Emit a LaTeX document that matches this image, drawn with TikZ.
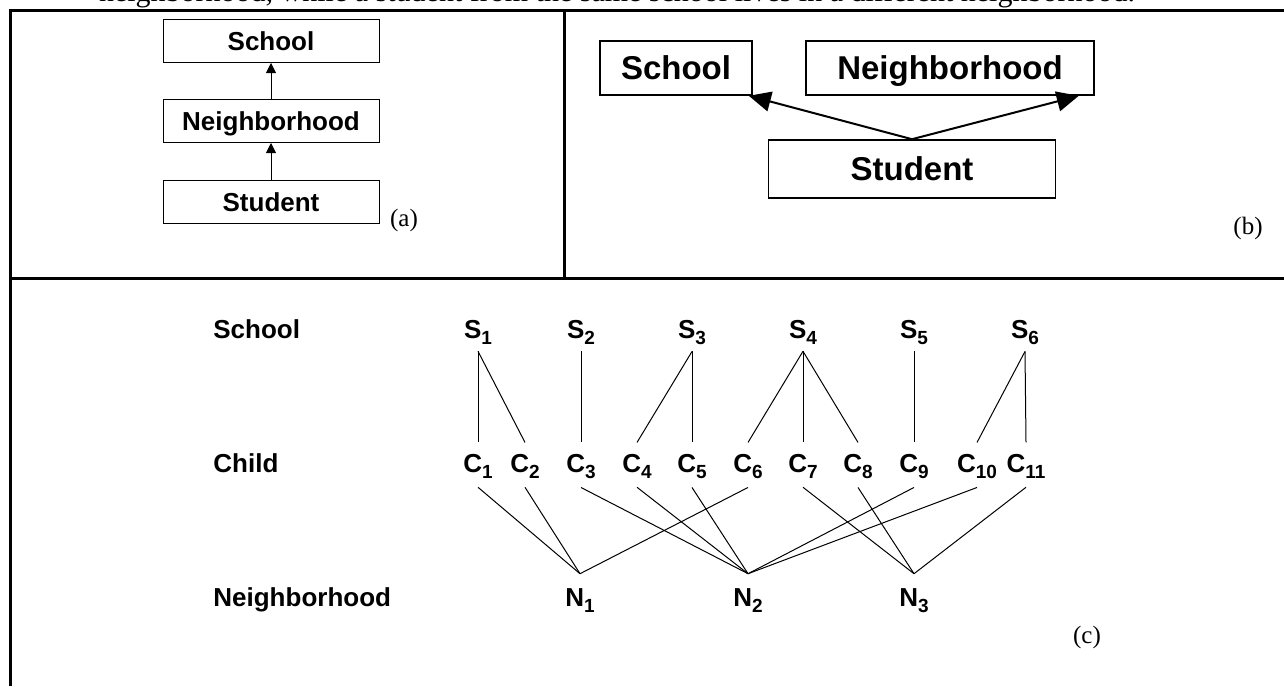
\documentclass[tikz,border=0pt]{standalone}
\usepackage{fontspec}
\setmainfont{Liberation Serif}
\setsansfont{Liberation Sans}
\usetikzlibrary{arrows.meta}
\newcommand{\vsub}[1]{\raisebox{-0.5ex}{\fontsize{9.5}{11}\selectfont #1}}

\begin{document}
\begin{tikzpicture}[x=0.5pt,y=-0.5pt,
	box/.style={draw, line width=0.5pt, minimum width=108pt, minimum height=21.5pt, inner sep=0pt, text height=9.4pt, text depth=0pt, font=\sffamily\bfseries\fontsize{13}{15}\selectfont},
	bigbox/.style={draw, line width=0.8pt, minimum height=27pt, inner sep=0pt, text height=11.9pt, text depth=0pt, font=\sffamily\bfseries\fontsize{16.5}{19}\selectfont},
	lab/.style={inner sep=0pt, font=\fontsize{12.5}{15}\selectfont},
	vtx/.style={anchor=base, inner sep=3pt, font=\sffamily\bfseries\fontsize{13}{15}\selectfont},
	row/.style={anchor=base west, inner sep=0pt, font=\sffamily\bfseries\fontsize{13}{15}\selectfont}]
	\useasboundingbox (0,0) rectangle (1284,686);
	\clip (0,0) rectangle (1284,686);
	% caption line, cut off at the top
	\node[lab, anchor=base, font=\fontsize{15}{18}\selectfont] (cap) at (617,1) {neighborhood, while a student from the same school lives in a different neighborhood.};
	% frame
	\draw[line width=1.5pt] (10,686) -- (10,10) -- (1284,10);
	\draw[line width=1.5pt] (564,10) -- (564,278);
	\draw[line width=1.5pt] (10,278) -- (1284,278);

	% (a)
	\node[box] (aS) at (271,41) {School};
	\node[box] (aN) at (271,121) {Neighborhood};
	\node[box] (aC) at (271,202) {Student};
	\draw[-{Triangle[length=5pt,width=5pt]}] (aN) -- (aS);
	\draw[-{Triangle[length=5pt,width=5pt]}] (aC) -- (aN);
	\node[lab] (la) at (404,220) {(a)};

	% (b)
	\node[bigbox, minimum width=76pt] (bS) at (676,68) {School};
	\node[bigbox, minimum width=144pt] (bN) at (950,68) {Neighborhood};
	\node[bigbox, minimum width=143.5pt, minimum height=29pt] (bC) at (912,169) {Student};
	\draw[line width=1pt, -{Triangle[length=11pt,width=10pt]}] (bC.north) -- ([xshift=-2pt]bS.south east);
	\draw[line width=1pt, -{Triangle[length=11pt,width=10pt]}] (bC.north) -- ([xshift=-8pt]bN.south east);
	\node[lab] (lb) at (1248,228) {(b)};

	% (c)
	\node[row] (rS) at (213,338) {School};
	\node[row] (rC) at (213,472) {Child};
	\node[row] (rN) at (213,606) {Neighborhood};
	\foreach \i/\x in {1/478,2/581,3/692,4/803,5/914,6/1025}
		\node[vtx] (S\i) at (\x,338) {S\vsub{\i}};
	\foreach \i/\x in {1/478,2/525,3/581,4/637,5/692,6/748,7/803,8/858,9/914,10/977,11/1026}
		\node[vtx] (C\i) at (\x,472) {C\vsub{\i}};
	\foreach \i/\x in {1/580,2/748,3/914}
		\node[vtx] (N\i) at (\x,606) {N\vsub{\i}};
	\foreach \s/\c in {1/1,1/2,2/3,3/4,3/5,4/6,4/7,4/8,5/9,6/10,6/11}
		\draw[line width=0.5pt] (S\s.south) -- ([yshift=2.5pt]C\c.north);
	\foreach \c/\n in {1/1,2/1,6/1,3/2,4/2,5/2,9/2,10/2,7/3,8/3,11/3}
		\draw[line width=0.5pt] ([yshift=-1pt]C\c.south) -- ([yshift=4pt]N\n.north);
	\node[lab] (lc) at (1087,637) {(c)};
\end{tikzpicture}
\end{document}
